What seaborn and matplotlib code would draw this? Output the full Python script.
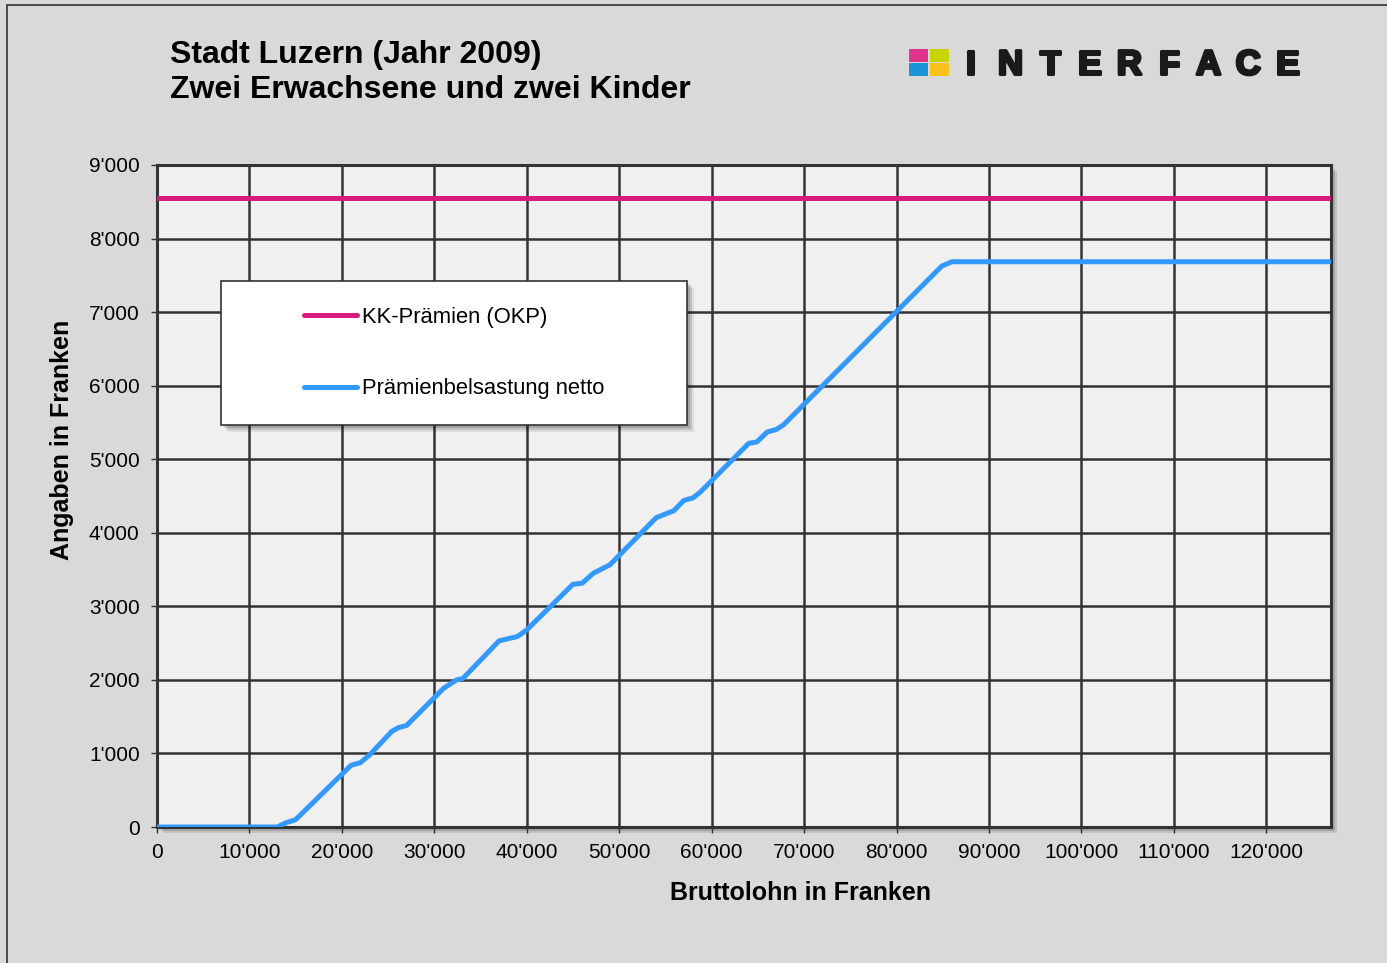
import matplotlib
matplotlib.use("Agg")
import matplotlib.pyplot as plt
import matplotlib.patheffects as pe
import seaborn as sns
import pandas as pd
from matplotlib.patches import Rectangle
from matplotlib.lines import Line2D
from matplotlib.ticker import FuncFormatter, MultipleLocator

# Daten
bruttolohn = [0, 13000, 14000, 15000, 21000, 22000, 23000, 25400, 26100, 27000,
              31000, 32400, 33100, 37000, 39000, 40000, 45000, 46000, 47200, 49000,
              54000, 55900, 57000, 58000, 58800, 64000, 64900, 66000, 67000, 67800,
              84900, 86000, 127000]
belastung_netto = [0, 0, 60, 100, 840, 875, 980, 1300, 1350, 1380,
                   1885, 2000, 2020, 2530, 2590, 2680, 3300, 3315, 3450, 3565,
                   4205, 4300, 4440, 4475, 4556, 5215, 5236, 5370, 5404, 5470,
                   7626, 7685, 7685]
praemie_x = [0, 127000]
praemie_y = [8550, 8550]

label_praemie = "KK-Prämien (OKP)"
label_netto = "Prämienbelsastung netto"

farbe_praemie = "#d81b7e"
farbe_netto = "#3399ff"

sns.set_style("white")
plt.rcParams["font.family"] = ["Liberation Sans", "DejaVu Sans"]
plt.rcParams["text.color"] = "black"
plt.rcParams["xtick.color"] = "black"
plt.rcParams["ytick.color"] = "black"

W, H = 1387, 963
fig = plt.figure(figsize=(W / 100, H / 100), dpi=100)
fig.patch.set_facecolor("#d9d9d9")

def fx(px):
    return px / W

def fy(py):
    return 1 - py / H

# Rahmen der Grafik
fig.add_artist(Line2D([fx(7), fx(7)], [0, fy(5)], color="#333333", lw=1.2))
fig.add_artist(Line2D([fx(7), 1], [fy(5), fy(5)], color="#333333", lw=1.2))

x0, x1, y0, y1 = 157, 1331, 165, 827
ax = fig.add_axes([fx(x0), fy(y1), fx(x1 - x0), (y1 - y0) / H])

# Schatten der Plotfläche
for off, a in [(6, 0.10), (4, 0.15), (2, 0.2)]:
    fig.add_artist(Rectangle((fx(x0 + off), fy(y1 + off)), fx(x1 - x0), (y1 - y0) / H,
                             facecolor="black", alpha=a, edgecolor="none", zorder=0))

ax.set_facecolor("#f0f0f0")
ax.set_zorder(1)

df_netto = pd.DataFrame({"Bruttolohn": bruttolohn, "Belastung": belastung_netto})
df_praemie = pd.DataFrame({"Bruttolohn": praemie_x, "Belastung": praemie_y})

sns.lineplot(data=df_praemie, x="Bruttolohn", y="Belastung", ax=ax, color=farbe_praemie,
             lw=3.6, zorder=3)
sns.lineplot(data=df_netto, x="Bruttolohn", y="Belastung", ax=ax, color=farbe_netto,
             lw=3.6, zorder=3)

ax.set_xlim(0, 127000)
ax.set_ylim(0, 9000)
ax.xaxis.set_major_locator(MultipleLocator(10000))
ax.yaxis.set_major_locator(MultipleLocator(1000))
fmt = FuncFormatter(lambda v, p: f"{int(v):,}".replace(",", "'"))
ax.xaxis.set_major_formatter(fmt)
ax.yaxis.set_major_formatter(fmt)
ax.grid(True, color="#333333", lw=1.8)
ax.set_axisbelow(True)
for s in ax.spines.values():
    s.set_color("#333333")
    s.set_linewidth(2.2)
    s.set_visible(True)
ax.tick_params(axis="both", which="major", length=4.5, width=1, color="#333333",
               labelcolor="black", labelsize=15, direction="out", left=True, bottom=True)
ax.tick_params(axis="y", pad=8)
ax.tick_params(axis="x", pad=7)
ax.set_xlabel("")
ax.set_ylabel("")

# Achsentitel
fig.text(fx(801), fy(893), "Bruttolohn in Franken", fontsize=18, fontweight="bold",
         ha="center", va="center")
fig.text(fx(62), fy(440), "Angaben in Franken", fontsize=18, fontweight="bold",
         ha="center", va="center", rotation=90)

# Titel
fig.text(fx(170), fy(55), "Stadt Luzern (Jahr 2009)", fontsize=23, fontweight="bold",
         ha="left", va="center")
fig.text(fx(170), fy(90), "Zwei Erwachsene und zwei Kinder", fontsize=23, fontweight="bold",
         ha="left", va="center")

# Logo
logo_farben = [("#e0348c", 909, 49), ("#c8d400", 930, 49),
               ("#1b95d8", 909, 63), ("#f9c21a", 930, 63)]
for c, lx, ly in logo_farben:
    fig.add_artist(Rectangle((fx(lx), fy(ly + 13)), fx(19), 13 / H, facecolor=c,
                             edgecolor="none"))
for i, ch in enumerate("INTERFACE"):
    fig.text(fx(971 + i * 39.6), fy(65), ch, fontsize=25, fontweight="bold",
             ha="center", va="center", color="#1a1a1a",
             path_effects=[pe.withStroke(linewidth=2.2, foreground="#1a1a1a")])

# Legende mit Kasten
bx0, bx1, by0, by1 = 221, 687, 281, 425
ax_w, ax_h = x1 - x0, y1 - y0
lx0 = (bx0 - x0) / ax_w
ly0 = (y1 - by1) / ax_h
lw_ = (bx1 - bx0) / ax_w
lh_ = (by1 - by0) / ax_h
for off, a in [(7, 0.08), (5, 0.12), (3, 0.15)]:
    ax.add_patch(Rectangle((lx0 + off / ax_w, ly0 - off / ax_h), lw_, lh_,
                           transform=ax.transAxes, facecolor="black", alpha=a,
                           edgecolor="none", zorder=5))
ax.add_patch(Rectangle((lx0, ly0), lw_, lh_, transform=ax.transAxes, facecolor="white",
                       edgecolor="#333333", lw=1.2, zorder=6))
handles = [Line2D([], [], color=farbe_praemie, lw=3.6, solid_capstyle="round"),
           Line2D([], [], color=farbe_netto, lw=3.6, solid_capstyle="round")]
leg = ax.legend(handles, [label_praemie, label_netto], loc="center",
                bbox_to_anchor=(lx0 + lw_ / 2, ly0 + lh_ / 2), frameon=False,
                fontsize=15.8, handlelength=2.45, handletextpad=0.2, labelspacing=2.3)
for t in leg.get_texts():
    t.set_color("black")
leg.set_zorder(7)

fig.savefig("out.png", dpi=100, facecolor=fig.get_facecolor())
